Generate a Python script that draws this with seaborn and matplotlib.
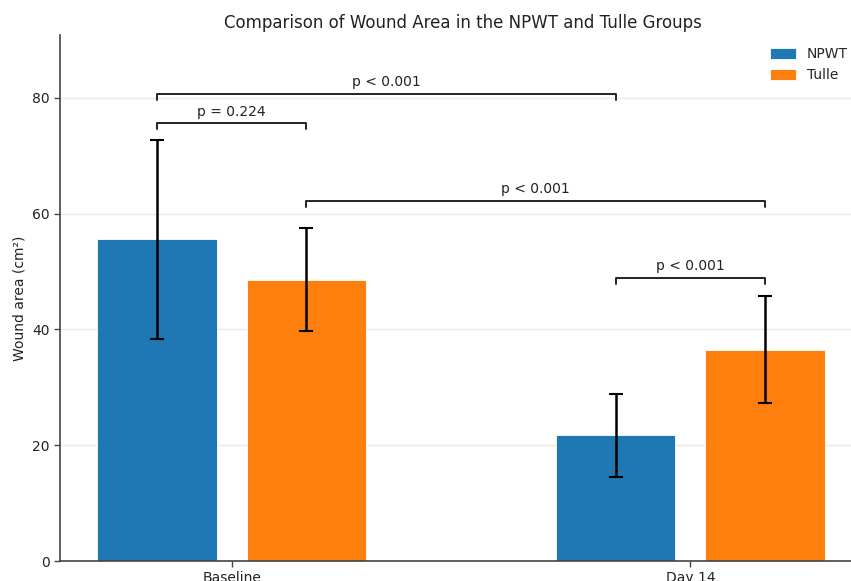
import matplotlib
matplotlib.use("Agg")
import matplotlib.pyplot as plt
import seaborn as sns
import pandas as pd
import numpy as np

timepoints = ["Baseline", "Baseline", "Day 14", "Day 14"]
groups = ["NPWT", "Tulle", "NPWT", "Tulle"]
means = [55.6, 48.6, 21.7, 36.5]
sds = [17.2, 8.9, 7.1, 9.2]

# significance annotations: (pair index a, pair index b, y level, label)
comparisons = [
    (0, 1, 75.6, "p = 0.224"),
    (0, 2, 80.7, "p < 0.001"),
    (1, 3, 62.2, "p < 0.001"),
    (2, 3, 48.9, "p < 0.001"),
]

df = pd.DataFrame({"Time": timepoints, "Group": groups, "Area": means, "SD": sds})

sns.set_theme(style="white")
plt.rcParams["font.family"] = ["DejaVu Sans"]

fig = plt.figure(figsize=(8.51, 5.81), dpi=100)
ax = fig.add_axes([0.0705, 0.0344, 0.9295, 0.9056])

palette = {"NPWT": "#1f77b4", "Tulle": "#ff7f0e"}
sns.barplot(data=df, x="Time", y="Area", hue="Group", palette=palette,
            errorbar=None, width=0.652, gap=0.2, saturation=1,
            edgecolor="white", linewidth=0.6, ax=ax, zorder=2)

# bar centers in data coords
patches = [p for p in ax.patches if p.get_height() > 0]
centers = {}
for p in patches:
    cx = p.get_x() + p.get_width() / 2
    h = p.get_height()
    for i, m in enumerate(means):
        if abs(h - m) < 1e-6:
            centers[i] = cx
xs = [centers[i] for i in range(len(means))]

ax.errorbar(xs, means, yerr=sds, fmt="none", ecolor="black",
            elinewidth=1.8, capsize=5, capthick=1.5, zorder=3)

tick_h = 1.0
for a, b, y, label in comparisons:
    xa, xb = xs[a], xs[b]
    ax.plot([xa, xa, xb, xb], [y - tick_h, y, y, y - tick_h],
            color="#222222", lw=1.4, zorder=4)
    ax.text((xa + xb) / 2, y + 0.8, label, ha="center", va="bottom",
            fontsize=10, color="#222222")

ax.set_ylim(0, 90.9)
ax.set_xlim(-0.374, 1.35)
ax.set_yticks([0, 20, 40, 60, 80])
ax.yaxis.grid(True, color="#e8e8e8", linewidth=1, zorder=0)
ax.set_axisbelow(True)
ax.set_xlabel("")
ax.set_ylabel("Wound area (cm²)", fontsize=10, color="#222222")
ax.set_title("Comparison of Wound Area in the NPWT and Tulle Groups",
             fontsize=12, color="#222222", pad=5, x=0.509)

for s in ["top", "right"]:
    ax.spines[s].set_visible(False)
for s in ["left", "bottom"]:
    ax.spines[s].set_color("#444444")
    ax.spines[s].set_linewidth(1.2)
ax.tick_params(axis="both", which="both", length=4, width=1, color="#444444",
               labelsize=10, labelcolor="#222222", left=True, bottom=True)

leg = ax.legend(loc="upper right", bbox_to_anchor=(1.012, 1.0), frameon=False,
                fontsize=10, handlelength=1.85, handleheight=0.8, title=None)

fig.savefig("out.png", dpi=100)
